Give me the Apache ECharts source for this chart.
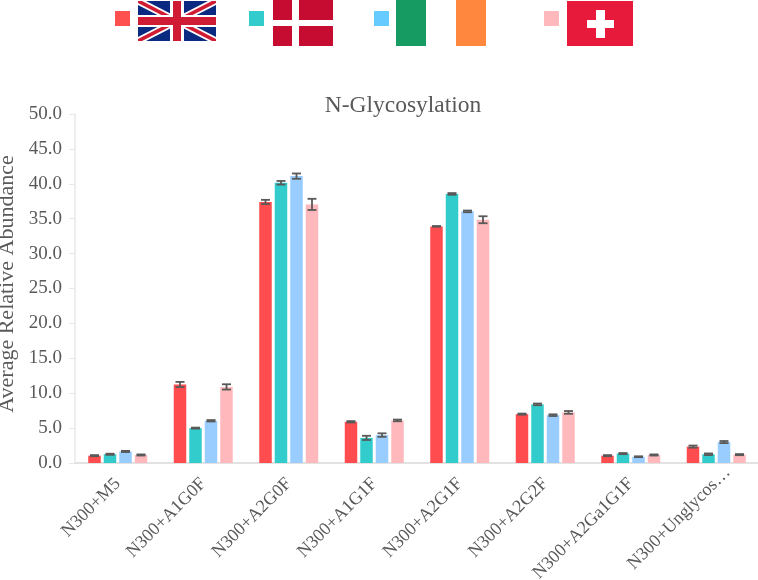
<!DOCTYPE html>
<html lang="en">
<head>
    <meta charset="UTF-8">
    <title>N-Glycosylation</title>
    <style>
        html, body {
            margin: 0;
            background: #ffffff;
        }
    </style>
</head>
<body>
<div id="chart-canvas" style="width: 758px;height:580px"></div>
<script src="https://cdn.jsdelivr.net/npm/echarts@6/dist/echarts.min.js"></script>
<script type="text/javascript">
    const categories = ["N300+M5", "N300+A1G0F", "N300+A2G0F", "N300+A1G1F", "N300+A2G1F", "N300+A2G2F", "N300+A2Ga1G1F", "N300+Unglycos…"]
    const seriesNames = ["UK", "Denmark", "Ireland", "Switzerland"]
    const valuesUK = [1.05, 11.25, 37.4, 5.9, 33.9, 7.0, 1.05, 2.35]
    const valuesDenmark = [1.25, 5.0, 40.15, 3.6, 38.55, 8.4, 1.35, 1.25]
    const valuesIreland = [1.65, 6.05, 41.1, 4.0, 36.05, 6.85, 0.9, 3.0]
    const valuesSwitzerland = [1.15, 10.9, 37.05, 6.1, 34.85, 7.25, 1.15, 1.2]
    const errorsUK = [0.08, 0.37, 0.3, 0.1, 0.05, 0.08, 0.08, 0.15]
    const errorsDenmark = [0.08, 0.07, 0.26, 0.3, 0.12, 0.12, 0.08, 0.12]
    const errorsIreland = [0.08, 0.1, 0.38, 0.25, 0.12, 0.12, 0.06, 0.15]
    const errorsSwitzerland = [0.08, 0.38, 0.8, 0.12, 0.5, 0.2, 0.08, 0.08]

    const colorList = ["#ff4d4f", "#33cccc", "#99ccff", "#ffb9bc"]
    const legendColors = ["#ff5050", "#33cccc", "#66ccff", "#ffb9bc"]
    const legendLeft = [115, 249, 374, 544]
    const allValues = [valuesUK, valuesDenmark, valuesIreland, valuesSwitzerland]
    const allErrors = [errorsUK, errorsDenmark, errorsIreland, errorsSwitzerland]

    const barWidth = 12.5
    const barStep = 15.5
    const fontName = "Liberation Serif"
    const textColor = "#595959"

    // error bar for one series, shifted to sit on its own bar
    function errorItem(index) {
        return function (params, api) {
            const shift = (index - 1.5) * barStep
            const x = api.coord([api.value(0), 0])[0] + shift
            const low = api.coord([api.value(0), api.value(1)])[1]
            const high = api.coord([api.value(0), api.value(2)])[1]
            const style = {stroke: "#595959", lineWidth: 1.8, fill: null}
            return {
                type: "group",
                children: [
                    {type: "line", shape: {x1: x, y1: low, x2: x, y2: high}, style: style},
                    {type: "line", shape: {x1: x - 4.5, y1: low, x2: x + 4.5, y2: low}, style: style},
                    {type: "line", shape: {x1: x - 4.5, y1: high, x2: x + 4.5, y2: high}, style: style}
                ]
            }
        }
    }

    let series = allValues.flatMap((values, index) => {
        return [
            {
                name: seriesNames[index],
                type: "bar",
                data: values,
                barWidth: barWidth,
                barGap: ((barStep - barWidth) / barWidth * 100) + "%",
                itemStyle: {color: colorList[index]}
            },
            {
                name: seriesNames[index] + " error",
                type: "custom",
                z: 5,
                renderItem: errorItem(index),
                encode: {x: 0, y: [1, 2]},
                data: values.map((v, i) => [i, v - allErrors[index][i], v + allErrors[index][i]])
            }
        ]
    })

    function box(x, y, width, height, color) {
        return {type: "rect", shape: {x: x, y: y, width: width, height: height}, style: {fill: color}, silent: true}
    }

    function strip(points, color) {
        return {type: "polygon", shape: {points: points}, style: {fill: color}, silent: true}
    }

    // flags next to the legend squares
    const ukBlue = "#0a2a82"
    const ukRed = "#cf1b33"
    const flags = [
        box(138, 1, 78, 40, ukBlue),
        strip([[138, 1], [146, 1], [216, 37], [216, 41], [208, 41], [138, 5]], "#ffffff"),
        strip([[208, 1], [216, 1], [216, 5], [146, 41], [138, 41], [138, 37]], "#ffffff"),
        strip([[138, 1], [142, 1], [216, 39], [216, 41], [212, 41], [138, 3]], ukRed),
        strip([[212, 1], [216, 1], [216, 3], [142, 41], [138, 41], [138, 39]], ukRed),
        box(170, 1, 14, 40, "#ffffff"),
        box(138, 15, 78, 12, "#ffffff"),
        box(173, 1, 8, 40, ukRed),
        box(138, 17, 78, 8, ukRed),

        box(273, 0, 60, 46, "#c60c30"),
        box(292, 0, 7, 46, "#ffffff"),
        box(273, 20, 60, 6, "#ffffff"),

        box(396, 0, 30, 46, "#169b62"),
        box(456, 0, 30, 46, "#ff883e"),

        box(567, 1, 66, 45, "#e81a3b"),
        box(596, 10, 9, 28, "#ffffff"),
        box(587, 20, 27, 8, "#ffffff")
    ]

    // the last label runs further along its slant than the others
    const xAxisData = categories.map((c, i) => {
        return i === categories.length - 1 ? {value: c, textStyle: {padding: [0, -16, 0, 0]}} : c
    })

    let myChart = echarts.init(document.getElementById('chart-canvas'));
    myChart.setOption({
        animation: false,
        textStyle: {fontFamily: fontName},
        title: {
            text: "N-Glycosylation",
            left: 398,
            top: 89,
            textAlign: "center",
            textStyle: {fontFamily: fontName, fontSize: 23.5, fontWeight: "normal", color: textColor}
        },
        legend: seriesNames.map((name, index) => ({
            data: [{name: name, itemStyle: {color: legendColors[index]}}],
            left: legendLeft[index],
            top: 11,
            padding: 0,
            itemWidth: 15,
            itemHeight: 15,
            icon: "rect",
            formatter: () => " ",
            selectedMode: false
        })),
        grid: {left: 75, right: -1, top: 114, bottom: 117, outerBoundsMode: "none"},
        xAxis: {
            type: "category",
            data: xAxisData,
            axisTick: {show: false},
            axisLine: {lineStyle: {color: "#d9d9d9", width: 1.5}},
            axisLabel: {
                rotate: 45,
                interval: 0,
                margin: 18,
                fontFamily: fontName,
                fontSize: 18,
                color: textColor
            }
        },
        yAxis: {
            type: "value",
            min: 0,
            max: 50,
            interval: 5,
            name: "Average Relative Abundance",
            nameLocation: "middle",
            nameGap: 52,
            nameTextStyle: {fontFamily: fontName, fontSize: 22, color: textColor, padding: [0, 0, 0, 9]},
            splitLine: {show: false},
            axisTick: {show: true, length: 6, lineStyle: {color: "#e8e8e8", width: 1}},
            axisLine: {show: true, lineStyle: {color: "#e8e8e8", width: 1.5}},
            axisLabel: {
                formatter: v => v.toFixed(1),
                margin: 13,
                padding: [2, 0, 0, 0],
                fontFamily: fontName,
                fontSize: 19,
                color: textColor
            }
        },
        graphic: flags,
        series: series
    });
</script>
</body>
</html>
